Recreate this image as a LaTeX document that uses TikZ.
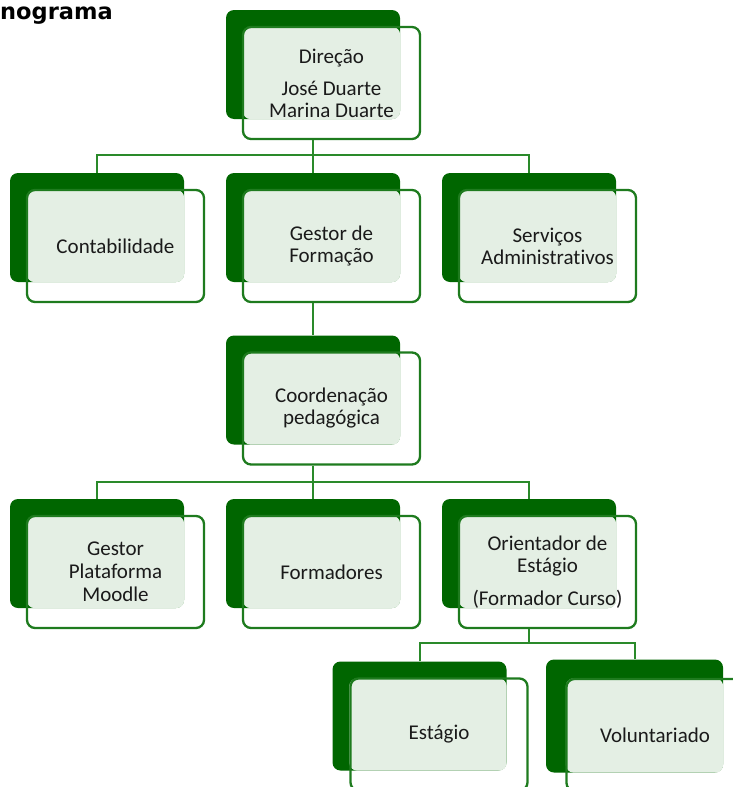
\documentclass[tikz,border=0pt]{standalone}
\usepackage{fontspec}
\setmainfont{Carlito}[Ligatures=NoCommon]
\newfontfamily\titlefont{DejaVu Sans}
\usepackage{tikz}
\definecolor{darkgreen}{HTML}{006600}
\definecolor{framegreen}{HTML}{1E7B1E}
\definecolor{linkgreen}{HTML}{2A8A2A}
\definecolor{lightgreen}{HTML}{E4EFE4}
\definecolor{textgray}{HTML}{1A1A1A}

\begin{document}
\begin{tikzpicture}[x=1pt, y=-1pt,
		back/.style={fill=darkgreen, rounded corners=8pt, minimum width=174pt, minimum height=109pt, inner sep=0pt},
		front/.style={draw=framegreen, line width=2.3pt, rounded corners=8pt, minimum width=177pt, minimum height=112pt,
			inner sep=0pt, align=center, text=textgray, font=\fontsize{21}{22}\selectfont},
		light/.style={fill=lightgreen, rounded corners=8pt},
		link/.style={draw=linkgreen, line width=2pt}]
				\useasboundingbox (0, 0) rectangle (733, 787);
				\clip (0, 0) rectangle (733, 787);
				\node[anchor=base west, inner sep=0pt, font=\titlefont\bfseries\fontsize{22.5}{26}\selectfont] (title) at (0, 19.5) {nograma};
				\node[back] (dirB) at (313, 64.5) {};
				\fill[light] (dirB.north west) ++(17, 17) rectangle (dirB.south east);
				\node[front] (dir) at (331.5, 83) {Direção\\[10pt]José Duarte\\Marina Duarte};
				\node[back] (contB) at (97, 227.5) {};
				\fill[light] (contB.north west) ++(17, 17) rectangle (contB.south east);
				\node[front] (cont) at (115.5, 246) {Contabilidade};
				\node[back] (gestB) at (313, 227.5) {};
				\fill[light] (gestB.north west) ++(17, 17) rectangle (gestB.south east);
				\node[front] (gest) at (331.5, 246) {Gestor de\\Formação};
				\node[back] (sadmB) at (529, 227.5) {};
				\fill[light] (sadmB.north west) ++(17, 17) rectangle (sadmB.south east);
				\node[front] (sadm) at (547.5, 246) {Serviços\\Administrativos};
				\node[back] (coordB) at (313, 390) {};
				\fill[light] (coordB.north west) ++(17, 17) rectangle (coordB.south east);
				\node[front] (coord) at (331.5, 408.5) {Coordenação\\pedagógica};
				\node[back] (gpmB) at (97, 553.5) {};
				\fill[light] (gpmB.north west) ++(17, 17) rectangle (gpmB.south east);
				\node[front] (gpm) at (115.5, 572) {Gestor\\[1pt]Plataforma\\[1pt]Moodle};
				\node[back] (formB) at (313, 553.5) {};
				\fill[light] (formB.north west) ++(17, 17) rectangle (formB.south east);
				\node[front] (form) at (331.5, 572) {Formadores};
				\node[back] (orieB) at (529, 553.5) {};
				\fill[light] (orieB.north west) ++(17, 17) rectangle (orieB.south east);
				\node[front] (orie) at (547.5, 572) {Orientador de\\Estágio\\[11pt](Formador Curso)};
				\node[back] (estB) at (419.5, 716) {};
				\fill[light] (estB.north west) ++(17, 17) rectangle (estB.south east);
				\node[front] (est) at (439, 734.5) {Estágio};
				\node[back, minimum width=177pt, minimum height=113pt] (volB) at (634.5, 716) {};
				\fill[light] (volB.north west) ++(20, 19) rectangle (volB.south east);
				\node[front] (vol) at (655, 735) {Voluntariado};
				\coordinate (bar1) at (313, 155);
				\coordinate (bar2) at (313, 482);
				\coordinate (bar3) at (529, 643);
				\draw[link] (dirB |- dir.south) -- (bar1);
				\draw[link] (contB.north) |- (bar1) -| (sadmB.north);
				\draw[link] (bar1) -- (gestB.north);
				\draw[link] (gestB |- gest.south) -- (coordB.north);
				\draw[link] (coordB |- coord.south) -- (bar2);
				\draw[link] (gpmB.north) |- (bar2) -| (orieB.north);
				\draw[link] (bar2) -- (formB.north);
				\draw[link] (orieB |- orie.south) -- (bar3);
				\draw[link] (estB.north) |- (bar3) -| (volB.north);
			\end{tikzpicture}
\end{document}
